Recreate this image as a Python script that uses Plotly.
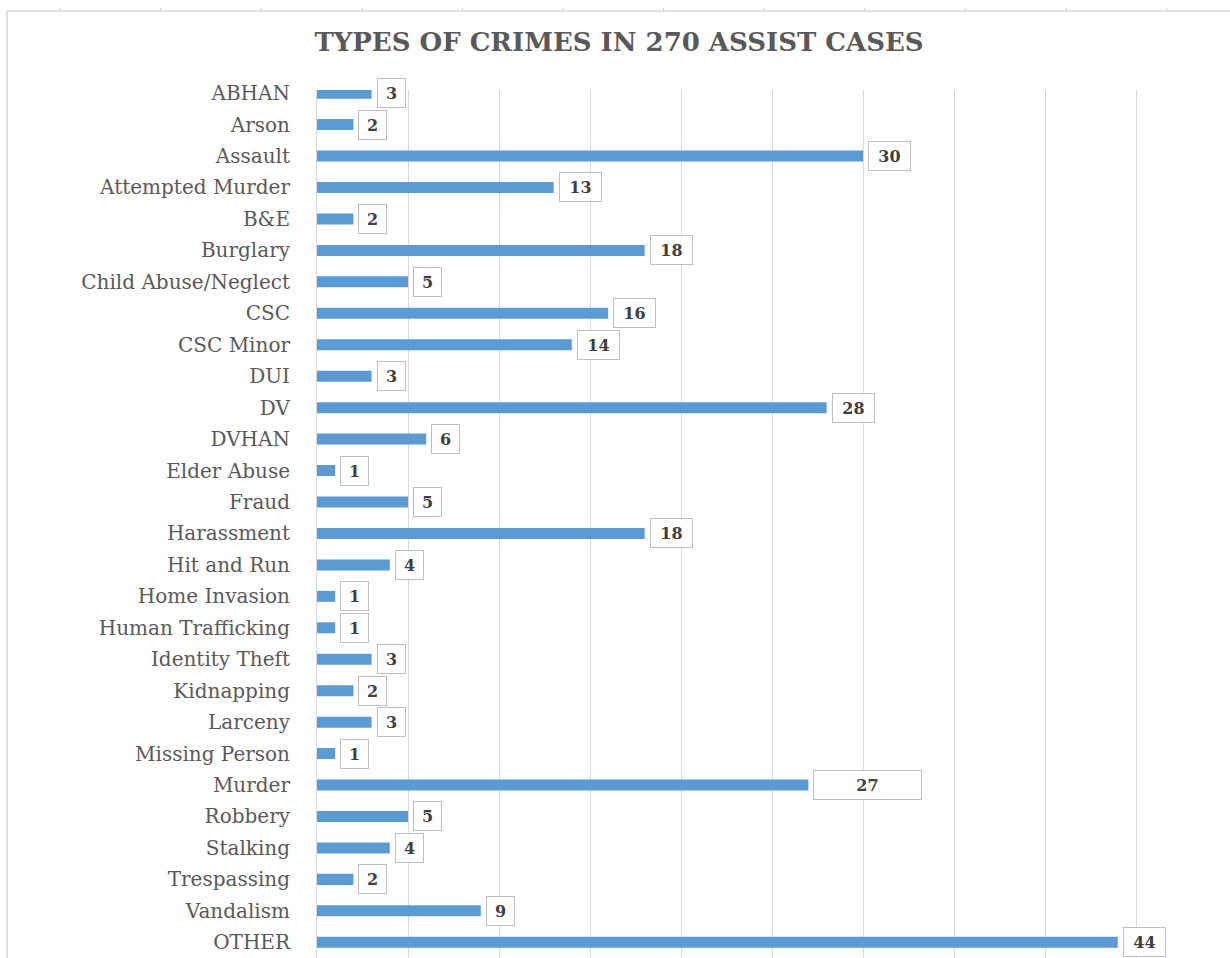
import plotly.graph_objects as go

# Crime categories, top to bottom as shown
crimes = [
    "ABHAN", "Arson", "Assault", "Attempted Murder", "B&E", "Burglary",
    "Child Abuse/Neglect", "CSC", "CSC Minor", "DUI", "DV", "DVHAN",
    "Elder Abuse", "Fraud", "Harassment", "Hit and Run", "Home Invasion",
    "Human Trafficking", "Identity Theft", "Kidnapping", "Larceny",
    "Missing Person", "Murder", "Robbery", "Stalking", "Trespassing",
    "Vandalism", "OTHER",
]
cases = [3, 2, 30, 13, 2, 18, 5, 16, 14, 3, 28, 6, 1, 5, 18, 4, 1, 1, 3, 2,
         3, 1, 27, 5, 4, 2, 9, 44]
x_ticks = [0, 5, 10, 15, 20, 25, 30, 35, 40, 45, 50]

W, H = 1230, 958
L, R, T, B = 317, 3, 90, 0


def px2x(px):
    return (px - L) / (W - L - R)


def px2y(py):
    return 1 - (py - T) / (H - T - B)


fig = go.Figure()
fig.add_trace(go.Bar(
    x=cases, y=crimes, orientation="h",
    marker=dict(color="#5b9bd5", line=dict(width=0)),
    hoverinfo="x+y",
))

# data labels in boxes
for c, v in zip(crimes, cases):
    w = 19 if v < 10 else 33
    if c == "Murder":
        w = 99
    fig.add_annotation(
        x=v, y=c, xref="x", yref="y", xanchor="left", yanchor="middle",
        xshift=5, text=str(v), showarrow=False, width=w, height=20,
        font=dict(family="DejaVu Serif", size=16, color="#404040", weight="bold"),
        bordercolor="#bfbfbf", borderwidth=1, borderpad=4, bgcolor="white",
    )

# outer chart frame (top and left edges) plus the little sheet ticks
frame = dict(color="#d6d6d6", width=1.5)
fig.add_shape(type="line", xref="paper", yref="paper",
              x0=px2x(7), x1=px2x(W), y0=px2y(11), y1=px2y(11), line=frame)
fig.add_shape(type="line", xref="paper", yref="paper",
              x0=px2x(7), x1=px2x(7), y0=px2y(11), y1=px2y(H), line=frame)
for k in range(12):
    tx = 60 + 100.6 * k
    fig.add_shape(type="line", xref="paper", yref="paper",
                  x0=px2x(tx), x1=px2x(tx), y0=px2y(8), y1=px2y(11),
                  line=dict(color="#cccccc", width=1))

fig.update_layout(
    width=W, height=H,
    margin=dict(l=L, r=R, t=T, b=B),
    paper_bgcolor="white", plot_bgcolor="white",
    bargap=0.65,
    showlegend=False,
    title=dict(
        text="<b>TYPES OF CRIMES IN 270 ASSIST CASES</b>",
        x=619 / W, xanchor="center", y=1 - 42 / H, yanchor="middle",
        yref="container", xref="container",
        font=dict(family="DejaVu Serif", size=26, color="#595959"),
    ),
    xaxis=dict(
        range=[0, 50], tickvals=x_ticks, showticklabels=False,
        showgrid=True, gridcolor="#d9d9d9", gridwidth=1,
        zeroline=False, showline=False, fixedrange=True,
    ),
    yaxis=dict(
        categoryorder="array", categoryarray=crimes,
        range=[27.5, -0.1], autorange=False,
        showline=True, linecolor="#d9d9d9", linewidth=1,
        ticks="", ticklabelstandoff=22,
        tickfont=dict(family="DejaVu Serif", size=20, color="#595959"),
        showgrid=False, zeroline=False, fixedrange=True,
    ),
)

# drop the page's default body margin so the figure sits at the top-left corner
fig.write_html("out.html", config={"displayModeBar": False},
               post_script="document.body.style.margin='0';document.body.style.overflow='hidden';")
